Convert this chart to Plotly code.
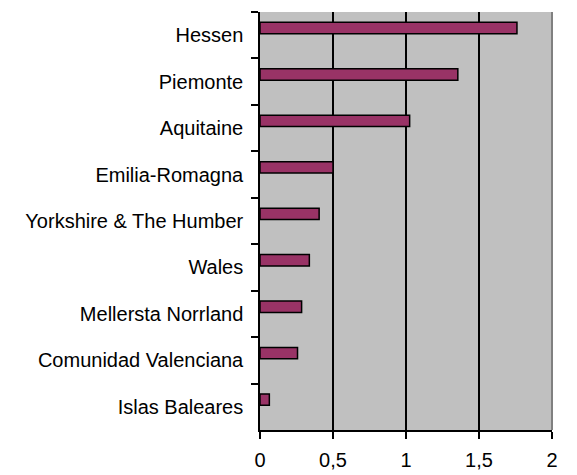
import plotly.graph_objects as go

regions = ["Hessen", "Piemonte", "Aquitaine", "Emilia-Romagna", "Yorkshire & The Humber",
           "Wales", "Mellersta Norrland", "Comunidad Valenciana", "Islas Baleares"]
values = [1.76, 1.355, 1.025, 0.50, 0.405, 0.338, 0.285, 0.257, 0.064]
x_ticks = [0, 0.5, 1, 1.5, 2]
x_tick_labels = ["0", "0,5", "1", "1,5", "2"]

fig = go.Figure(go.Bar(
    x=values, y=regions, orientation="h",
    width=0.245, offset=-0.277,
    marker=dict(color="#993366", line=dict(color="black", width=1.5)),
))

fig.update_layout(
    width=569, height=467,
    margin=dict(l=252, r=25, t=4, b=45),
    paper_bgcolor="white", plot_bgcolor="#C0C0C0",
    font=dict(family="Liberation Sans, Arial, sans-serif", size=20, color="black"),
    showlegend=False,
    xaxis=dict(range=[0, 2], tickvals=x_ticks, ticktext=x_tick_labels,
               showgrid=True, gridcolor="black", gridwidth=1.5,
               showline=True, linecolor="black", linewidth=1.5,
               ticks="outside", ticklen=7, tickcolor="black", tickwidth=1.5,
               ticklabelstandoff=4,
               zeroline=False, fixedrange=True),
    yaxis=dict(autorange="reversed", showgrid=False,
               showline=True, linecolor="black", linewidth=1.5,
               ticks="outside", ticklen=7, tickcolor="black", tickwidth=1.5,
               tickson="boundaries", ticklabelstandoff=11, zeroline=False),
    shapes=[dict(type="line", xref="x domain", yref="y domain", x0=1, x1=1, y0=0, y1=1,
                 line=dict(color="#808080", width=2), layer="above")],
)

fig.write_html("out.html")
